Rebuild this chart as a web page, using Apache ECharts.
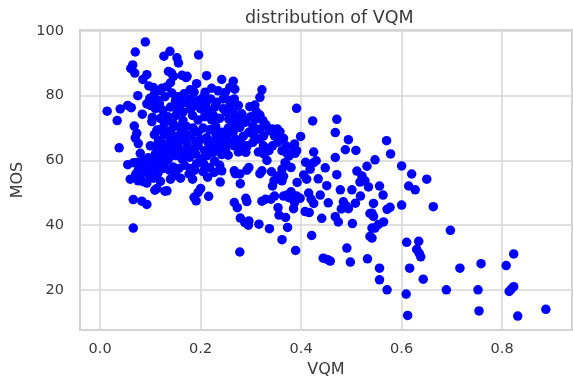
<!DOCTYPE html>
<html>
<head>
<meta charset="utf-8">
<script src="https://cdn.jsdelivr.net/npm/echarts@6/dist/echarts.min.js"></script>
<style>
  html, body { margin: 0; padding: 0; background: #ffffff; }
  #chart { width: 573px; height: 385px; }
</style>
</head>
<body>
<div id="chart"></div>
<script>
// Axis ticks
const vqmTicks = [0.0, 0.2, 0.4, 0.6, 0.8];
const mosTicks = [20, 40, 60, 80, 100];

// [VQM, MOS] samples, grouped by VQM range
const vqmBelow015 = [
  [0.014,75.2],[0.034,72.3],[0.040,75.9],[0.038,63.9],[0.055,77.0],[0.062,76.3],
  [0.055,58.7],[0.060,54.2],[0.061,88.4],[0.065,89.5],[0.069,87.0],[0.070,93.5],
  [0.090,96.6],[0.085,85.0],[0.093,86.5],[0.075,80.0],[0.097,83.0],[0.106,82.5],
  [0.099,79.2],[0.113,78.7],[0.129,79.7],[0.143,80.8],[0.123,82.3],[0.133,82.8],
  [0.127,92.2],[0.139,93.7],[0.136,87.5],[0.146,86.0],[0.142,87.0],[0.084,74.3],
  [0.068,70.6],[0.073,68.4],[0.070,67.0],[0.076,65.2],[0.080,62.2],[0.103,72.0],
  [0.113,69.4],[0.116,66.3],[0.104,73.3],[0.093,77.5],[0.107,78.5],[0.100,77.0],
  [0.071,55.8],[0.076,57.0],[0.086,58.5],[0.067,59.3],[0.080,55.5],[0.090,56.5],
  [0.098,55.5],[0.085,53.5],[0.093,53.0],[0.102,57.5],[0.076,53.7],[0.088,60.0],
  [0.066,47.9],[0.083,47.4],[0.093,46.4],[0.066,39.1],[0.109,50.8],[0.113,51.3],
  [0.129,50.5],[0.133,50.6],[0.111,58.4],[0.105,60.5],[0.110,62.0],[0.111,64.5],
  [0.118,60.0],[0.106,54.5],[0.115,56.0],[0.120,53.5],[0.126,57.5],[0.124,62.5],
  [0.120,66.0],[0.128,68.0],[0.133,65.0],[0.136,64.0],[0.131,61.5],[0.129,59.4],
  [0.138,57.0],[0.140,54.2],[0.136,60.5],[0.110,76.0],[0.118,77.5],[0.125,75.5],
  [0.120,73.0],[0.128,71.5],[0.108,80.5],[0.115,81.5],[0.140,69.2],[0.148,70.5],
  [0.140,66.5],[0.147,64.5],[0.145,58.0],[0.140,76.5],[0.135,73.5],[0.145,71.5],
  [0.125,70.0],[0.100,64.5],[0.108,68.0],[0.075,59.4],[0.082,56.3],[0.096,60.8],
  [0.104,59.0],[0.140,84.0],[0.145,62.5],[0.125,64.5],[0.118,69.5]
];

const vqm015to030 = [
  [0.153,91.7],[0.156,90.1],[0.163,86.3],[0.171,85.6],[0.156,79.7],[0.150,78.5],
  [0.162,79.5],[0.167,80.6],[0.196,92.6],[0.173,86.0],[0.192,83.7],[0.212,86.2],
  [0.242,85.0],[0.265,84.5],[0.268,82.0],[0.179,81.8],[0.187,81.1],[0.209,81.1],
  [0.222,82.3],[0.235,81.5],[0.249,81.0],[0.258,82.5],[0.180,79.0],[0.195,78.5],
  [0.205,79.5],[0.220,79.0],[0.232,78.0],[0.245,79.0],[0.258,78.5],[0.267,79.0],
  [0.152,76.0],[0.165,75.0],[0.180,75.9],[0.190,77.0],[0.200,76.0],[0.215,75.5],
  [0.228,76.5],[0.251,74.9],[0.259,77.2],[0.275,77.0],[0.298,76.6],[0.151,73.9],
  [0.165,72.3],[0.184,73.9],[0.195,72.5],[0.208,73.5],[0.222,72.5],[0.238,73.0],
  [0.256,72.8],[0.268,73.5],[0.282,74.4],[0.290,72.5],[0.162,69.2],[0.172,70.5],
  [0.185,70.0],[0.195,68.7],[0.205,70.0],[0.218,69.5],[0.230,70.5],[0.242,68.7],
  [0.255,70.0],[0.264,71.3],[0.278,70.2],[0.289,71.8],[0.153,67.5],[0.168,66.5],
  [0.180,67.6],[0.200,66.5],[0.212,67.0],[0.225,66.0],[0.237,67.0],[0.253,67.6],
  [0.259,65.5],[0.270,66.5],[0.285,67.5],[0.296,68.7],[0.158,63.5],[0.173,65.1],
  [0.185,63.5],[0.195,64.5],[0.208,63.0],[0.220,64.0],[0.232,65.0],[0.246,65.6],
  [0.237,63.5],[0.267,64.5],[0.278,63.0],[0.293,64.5],[0.150,61.5],[0.163,60.5],
  [0.178,61.0],[0.190,62.0],[0.200,60.5],[0.213,61.5],[0.228,59.8],[0.242,61.8],
  [0.255,61.6],[0.275,62.6],[0.290,62.5],[0.157,57.5],[0.168,58.5],[0.180,57.5],
  [0.192,59.0],[0.206,58.9],[0.218,57.8],[0.238,58.5],[0.242,56.8],[0.227,56.3],
  [0.267,56.8],[0.278,55.8],[0.292,57.0],[0.296,57.8],[0.150,55.5],[0.160,54.5],
  [0.177,55.8],[0.184,54.2],[0.214,54.8],[0.239,53.3],[0.269,55.9],[0.279,52.8],
  [0.187,48.6],[0.191,47.5],[0.195,50.1],[0.200,51.3],[0.216,48.9],[0.267,47.0],
  [0.273,45.4],[0.290,48.3],[0.292,47.3],[0.279,42.2],[0.288,40.8],[0.296,41.3],
  [0.295,40.0],[0.278,31.7],[0.160,77.5],[0.172,77.8],[0.210,77.5],[0.225,74.0],
  [0.245,76.0],[0.265,75.5],[0.280,72.0],[0.170,68.0],[0.190,66.0],[0.230,68.3],
  [0.265,68.8],[0.280,65.5],[0.175,63.0],[0.215,65.5],[0.250,63.5],[0.165,62.5],
  [0.205,56.5],[0.225,62.5],[0.188,57.0],[0.160,70.5],[0.155,65.5],[0.300,73.5]
];

const vqm030to045 = [
  [0.308,77.1],[0.311,75.0],[0.322,81.8],[0.318,79.5],[0.311,72.8],[0.324,72.3],
  [0.318,74.0],[0.304,70.7],[0.318,69.7],[0.330,71.0],[0.336,69.2],[0.343,69.7],
  [0.353,69.7],[0.358,68.8],[0.315,66.6],[0.325,67.5],[0.347,67.6],[0.360,66.8],
  [0.304,65.6],[0.315,62.6],[0.325,64.5],[0.336,63.0],[0.343,64.5],[0.353,65.6],
  [0.362,63.0],[0.370,64.5],[0.385,64.2],[0.326,62.0],[0.332,60.0],[0.372,62.2],
  [0.388,62.2],[0.318,55.9],[0.322,56.8],[0.341,56.5],[0.362,57.3],[0.370,58.9],
  [0.380,57.8],[0.368,59.3],[0.346,53.7],[0.354,55.2],[0.362,53.7],[0.365,55.1],
  [0.343,52.1],[0.392,53.2],[0.322,47.4],[0.329,48.0],[0.340,48.0],[0.347,49.0],
  [0.354,45.4],[0.356,43.1],[0.369,42.4],[0.373,39.3],[0.365,49.0],[0.376,48.5],
  [0.380,50.3],[0.362,35.5],[0.389,32.2],[0.421,36.8],[0.316,40.3],[0.337,38.9],
  [0.391,76.1],[0.423,72.2],[0.399,67.4],[0.387,65.1],[0.391,63.0],[0.365,66.8],
  [0.425,62.6],[0.409,59.4],[0.425,59.3],[0.430,59.9],[0.418,57.3],[0.405,55.5],
  [0.411,54.2],[0.448,57.7],[0.434,54.3],[0.451,52.2],[0.415,49.9],[0.438,49.3],
  [0.420,48.0],[0.425,46.7],[0.408,44.2],[0.416,43.9],[0.385,45.1],[0.387,47.0],
  [0.398,48.3],[0.391,49.0],[0.372,49.3],[0.388,48.8],[0.441,42.1],[0.444,29.8],
  [0.376,61.4],[0.305,68.0]
];

const vqmAbove045 = [
  [0.452,29.4],[0.458,28.9],[0.498,28.6],[0.532,29.6],[0.491,32.9],[0.454,46.9],
  [0.471,72.7],[0.468,68.6],[0.494,66.4],[0.488,63.3],[0.509,63.1],[0.468,60.9],
  [0.547,60.2],[0.471,55.6],[0.511,56.7],[0.531,58.2],[0.517,53.3],[0.534,51.8],
  [0.478,50.9],[0.501,50.9],[0.484,47.2],[0.494,45.1],[0.480,45.0],[0.489,46.0],
  [0.537,43.6],[0.544,46.7],[0.468,42.6],[0.474,41.0],[0.502,40.5],[0.537,36.5],
  [0.541,39.1],[0.508,46.8],[0.518,49.0],[0.521,55.2],[0.527,53.7],[0.554,40.2],
  [0.547,39.1],[0.541,36.0],[0.564,41.0],[0.541,43.7],[0.544,42.7],[0.570,66.1],
  [0.578,62.0],[0.600,58.3],[0.620,55.8],[0.650,54.2],[0.614,52.1],[0.627,50.9],
  [0.556,52.1],[0.563,49.3],[0.577,45.5],[0.571,44.9],[0.600,46.2],[0.663,45.7],
  [0.697,38.4],[0.610,34.7],[0.634,35.0],[0.630,32.5],[0.635,31.3],[0.638,30.2],
  [0.556,26.7],[0.616,26.7],[0.643,23.3],[0.716,26.7],[0.556,23.1],[0.571,20.0],
  [0.609,18.7],[0.689,20.0],[0.612,12.1],[0.823,31.1],[0.758,28.1],[0.808,27.5],
  [0.752,20.0],[0.823,21.0],[0.814,19.5],[0.818,20.2],[0.754,13.5],[0.831,11.9],
  [0.887,14.0]
];

const samples = [].concat(vqmBelow015, vqm015to030, vqm030to045, vqmAbove045);

const font = 'DejaVu Sans';
const textColor = '#3a3a3a';
const gridColor = '#d6d6d6';

const chart = echarts.init(document.getElementById('chart'), null, { renderer: 'canvas' });

chart.setOption({
  animation: false,
  backgroundColor: '#ffffff',
  title: {
    text: 'distribution of VQM',
    left: 240,
    top: 4,
    textStyle: { fontFamily: font, fontSize: 17.5, fontWeight: 'normal', color: textColor }
  },
  grid: {
    left: 80, right: 1, top: 30, bottom: 55,
    show: true, borderColor: '#d0d0d0', borderWidth: 2, backgroundColor: '#ffffff'
  },
  xAxis: {
    type: 'value',
    min: -0.04,
    max: 0.939,
    name: 'VQM',
    nameLocation: 'middle',
    nameGap: 32,
    nameTextStyle: { fontFamily: font, fontSize: 16, color: textColor },
    axisLine: { show: false },
    axisTick: { show: false },
    axisLabel: {
      customValues: vqmTicks,
      margin: 12,
      fontFamily: font, fontSize: 14.5, color: textColor,
      formatter: v => v.toFixed(1)
    },
    splitLine: { show: true, lineStyle: { color: gridColor, width: 1.5 } }
  },
  yAxis: {
    type: 'value',
    min: 7.6,
    max: 100.3,
    name: 'MOS',
    nameLocation: 'middle',
    nameGap: 52,
    nameTextStyle: { fontFamily: font, fontSize: 16, color: textColor },
    axisLine: { show: false },
    axisTick: { show: false },
    axisLabel: {
      customValues: mosTicks,
      margin: 16,
      fontFamily: font, fontSize: 14.5, color: textColor
    },
    splitLine: { show: true, lineStyle: { color: gridColor, width: 1.5 } }
  },
  series: [{
    type: 'scatter',
    data: samples,
    symbol: 'circle',
    symbolSize: 9.5,
    itemStyle: { color: '#0000ff', opacity: 1, borderWidth: 0 },
    emphasis: { disabled: true }
  }]
});
</script>
</body>
</html>
